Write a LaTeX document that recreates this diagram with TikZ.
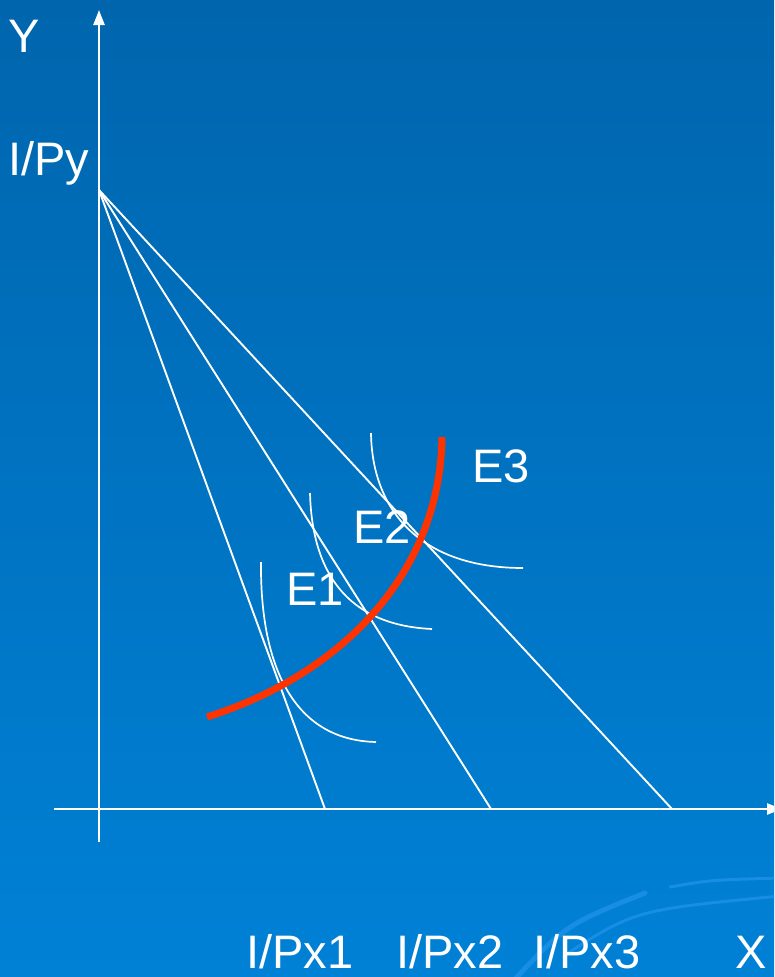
\documentclass[tikz,border=0pt]{standalone}
\usepackage{fontspec}
\setmainfont{Liberation Sans}
\usepackage{tikz}
\usetikzlibrary{arrows.meta}
\definecolor{SlideTop}{HTML}{0065AD}
\definecolor{SlideBottom}{HTML}{0081D6}
\definecolor{SwooshBlue}{HTML}{178DE3}
\definecolor{PathRed}{HTML}{FF3300}

\begin{document}
\begin{tikzpicture}[x=1pt, y=-1pt,
    axis/.style={draw=white, line width=2.4pt},
    budget/.style={draw=white, line width=1.9pt},
    indiff/.style={draw=white, line width=1.7pt},
    swoosh/.style={draw=SwooshBlue, line cap=round},
    lbl/.style={text=white, inner sep=0pt, font=\fontsize{47}{50}\selectfont}]
  \useasboundingbox (0,0) rectangle (774,977);
  \clip (0,0) rectangle (774,977);
  \shade[top color=SlideTop, bottom color=SlideBottom] (0,0) rectangle (774,977);
  % background swooshes
  \draw[swoosh, line width=5pt] (505,990) .. controls (565,925) .. (645,893);
  \draw[swoosh, line width=3pt] (670,887) .. controls (710,880) .. (780,878);
  \draw[swoosh, line width=3pt] (565,955) .. controls (635,910) .. (780,896);

  % axes
  \coordinate (O) at (99,809);
  \coordinate (ytop) at (99,10);
  \coordinate (ybot) at (99,842);
  \coordinate (xleft) at (54,809);
  \coordinate (xright) at (782,809);
  \draw[axis, -{Triangle[width=11pt,length=15pt]}] (ybot) -- (ytop);
  \draw[axis, -{Triangle[width=11pt,length=15pt]}] (xleft) -- (xright);

  % budget lines
  \coordinate (Py) at (99,190);
  \coordinate (Px1) at (325,809);
  \coordinate (Px2) at (491,809);
  \coordinate (Px3) at (672,809);
  \foreach \i in {1,2,3}
    \draw[budget] (Py) -- (Px\i);

  % indifference curves
  \draw[indiff] (261,562) .. controls (260,660) and (290,740) .. (376,742);
  \draw[indiff] (310,493) .. controls (312,570) and (345,625) .. (432,629);
  \draw[indiff] (371,433) .. controls (372,510) and (420,568) .. (523,568);

  % income-consumption path
  \draw[PathRed, line width=7pt] (207,717) .. controls (340,675) and (440,575) .. (442,437);

  % labels
  \node[lbl, anchor=base west] (ylab) at (8,52) {Y};
  \node[lbl, anchor=base west] (pylab) at (8,175) {I/Py};
  \node[lbl, anchor=base west] (e3) at (472,482) {E3};
  \node[lbl, anchor=base west] (e2) at (353,543) {E2};
  \node[lbl, anchor=base west] (e1) at (286,605) {E1};
  \node[lbl, anchor=base west] (px1lab) at (246,968) {I/Px1};
  \node[lbl, anchor=base west] (px2lab) at (396,968) {I/Px2};
  \node[lbl, anchor=base west] (px3lab) at (533,968) {I/Px3};
  \node[lbl, anchor=base west] (xlab) at (735,968) {X};
\end{tikzpicture}
\end{document}
